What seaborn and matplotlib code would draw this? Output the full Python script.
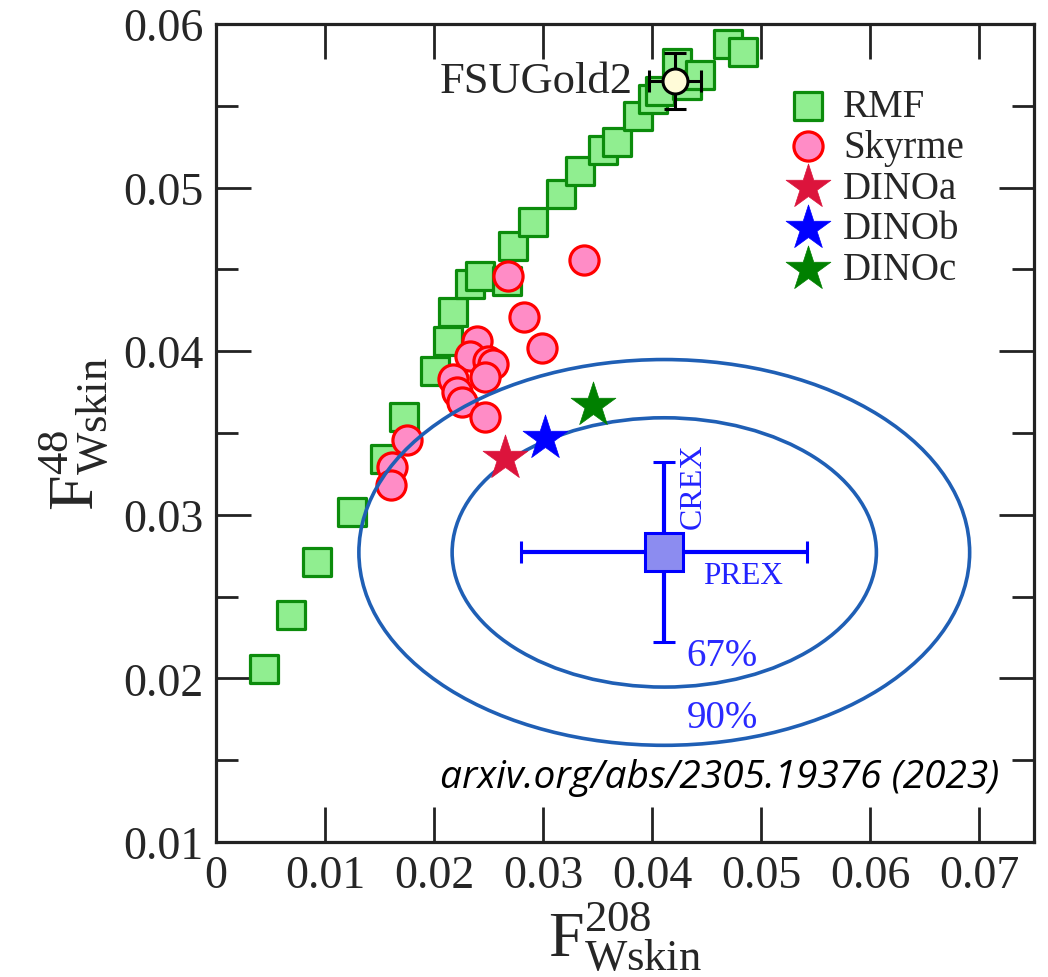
import matplotlib
matplotlib.use('Agg')
import matplotlib.pyplot as plt
import seaborn as sns
from matplotlib.patches import Ellipse


# RMF models
rmf_x = [0.0044, 0.0069, 0.0093, 0.0125, 0.0155, 0.0172, 0.0201, 0.0213, 0.0217,
         0.0233, 0.0242, 0.0267, 0.0272, 0.0291, 0.0316, 0.0334, 0.0355, 0.0368,
         0.0387, 0.0401, 0.0407, 0.0423, 0.0432, 0.0444, 0.0469, 0.0483]
rmf_y = [0.0206, 0.0239, 0.0271, 0.0302, 0.0334, 0.0360, 0.0388, 0.0406, 0.0424,
         0.0441, 0.0446, 0.0443, 0.0464, 0.0479, 0.0496, 0.0510, 0.0523, 0.0528,
         0.0544, 0.0554, 0.0559, 0.0576, 0.0563, 0.0569, 0.0588, 0.0583]

# Skyrme models
skyrme_x = [0.0337, 0.0268, 0.0282, 0.0299, 0.0239, 0.0233, 0.0249, 0.0254,
            0.0247, 0.0217, 0.0221, 0.0226, 0.0247, 0.0175, 0.0161, 0.0160]
skyrme_y = [0.0456, 0.0446, 0.0421, 0.0402, 0.0406, 0.0397, 0.0394, 0.0392,
            0.0384, 0.0383, 0.0375, 0.0369, 0.0360, 0.0346, 0.0329, 0.0318]

dino_names = ['DINOa', 'DINOb', 'DINOc']
dino_x = [0.0265, 0.0302, 0.0346]
dino_y = [0.0335, 0.0347, 0.0367]
dino_colors = ['#dc143c', '#0000ff', '#008000']

# FSUGold2 with error bars
fsu_x, fsu_y = 0.0421, 0.0565
fsu_xerr, fsu_yerr = 0.0024, 0.0017

# PREX (208) / CREX (48)
prex_x, prex_xerr = 0.0411, 0.0131
crex_y, crex_yerr = 0.0277, 0.0055

# confidence ellipses: label, full width, full height
ellipse_labels = ['67%', '90%']
ellipse_w = [0.0389, 0.0560]
ellipse_h = [0.01646, 0.02358]

x_ticks = [0, 0.01, 0.02, 0.03, 0.04, 0.05, 0.06, 0.07]
x_labels = ['0', '0.01', '0.02', '0.03', '0.04', '0.05', '0.06', '0.07']
y_ticks = [0.01, 0.02, 0.03, 0.04, 0.05, 0.06]
y_labels = ['0.01', '0.02', '0.03', '0.04', '0.05', '0.06']
y_minor = [0.015, 0.025, 0.035, 0.045, 0.055]

sns.set_style('ticks')
plt.rcParams['font.family'] = ['Liberation Serif', 'DejaVu Serif']
plt.rcParams['mathtext.fontset'] = 'custom'
plt.rcParams['mathtext.rm'] = 'Liberation Serif'
plt.rcParams['mathtext.it'] = 'Liberation Serif:italic'

fig = plt.figure(figsize=(10.48, 9.78), dpi=100)
ax = fig.add_axes([216 / 1048, 1 - 843 / 978, 818 / 1048, 818 / 978])

sns.scatterplot(x=rmf_x, y=rmf_y, marker='s', s=380, color='#90ee90',
                edgecolor='#0c8c0c', linewidth=2.3, label='RMF', zorder=2, ax=ax)
sns.scatterplot(x=skyrme_x, y=skyrme_y, marker='o', s=440, color='#ff8cc6',
                edgecolor='#ff0000', linewidth=2.3, label='Skyrme', zorder=2.5, ax=ax)

for lab, w, h in zip(ellipse_labels, ellipse_w, ellipse_h):
    ax.add_patch(Ellipse((prex_x, crex_y), w, h, fill=False,
                         edgecolor='#1f5fb5', lw=2.6, zorder=3))

for name, x, y, c in zip(dino_names, dino_x, dino_y, dino_colors):
    sns.scatterplot(x=[x], y=[y], marker='*', s=1150, color=c, edgecolor=c,
                    linewidth=0.5, label=name, zorder=4, ax=ax)

# PREX / CREX point
ax.errorbar(prex_x, crex_y, xerr=prex_xerr, yerr=crex_yerr, fmt='s',
            ms=27, mfc='#8c8cf0', mec='#0000ff', mew=2.2, color='#0000ff',
            elinewidth=3, capsize=8, capthick=3, zorder=5)
ax.text(prex_x + 0.0027, crex_y + 0.0041, 'CREX', rotation=90, color='#2222ff',
        fontsize=23, ha='center', va='center')
ax.text(prex_x + 0.0072, crex_y - 0.0014, 'PREX', color='#2222ff',
        fontsize=22.5, ha='center', va='center')
ax.text(prex_x + 0.0053, crex_y - 0.0063, ellipse_labels[0], color='#2a2aff',
        fontsize=28, ha='center', va='center')
ax.text(prex_x + 0.0053, crex_y - 0.0101, ellipse_labels[1], color='#2a2aff',
        fontsize=28, ha='center', va='center')

# FSUGold2
ax.errorbar(fsu_x, fsu_y, xerr=fsu_xerr, yerr=fsu_yerr, fmt='o', ms=18,
            mfc='#fffbd8', mec='black', mew=2.2, color='black',
            elinewidth=2.2, capsize=8, capthick=2.2, zorder=6)
ax.text(fsu_x - 0.0039, fsu_y, 'FSUGold2', ha='right', va='center', fontsize=32)

ax.text(0.958, 0.0795, 'arxiv.org/abs/2305.19376 (2023)', transform=ax.transAxes,
        ha='right', va='center', fontsize=28, fontfamily='Open Sans',
        style='italic', color='black')

ax.set_xlim(0, 0.075)
ax.set_ylim(0.01, 0.06)
ax.set_xticks(x_ticks)
ax.set_xticklabels(x_labels)
ax.set_yticks(y_ticks)
ax.set_yticklabels(y_labels)
ax.set_yticks(y_minor, minor=True)
ax.tick_params(which='both', direction='in', top=True, right=True,
               labelsize=33, pad=9, width=2, color='#222222')
ax.tick_params(which='major', length=25)
ax.tick_params(which='minor', length=16)
for sp in ax.spines.values():
    sp.set_linewidth(2.3)
    sp.set_color('#222222')

ax.set_xlabel(r'$\mathregular{F^{208}_{Wskin}}$', fontsize=46, labelpad=2)
ax.set_ylabel(r'$\mathregular{F^{48}_{Wskin}}$', fontsize=46, labelpad=8)

ax.legend(loc='upper left', bbox_to_anchor=(0.70, 0.922), frameon=False,
          fontsize=28, borderpad=0, borderaxespad=0, handlelength=1.0,
          handletextpad=0.4, labelspacing=0.1, scatterpoints=1)

fig.savefig('out.png', dpi=100)
